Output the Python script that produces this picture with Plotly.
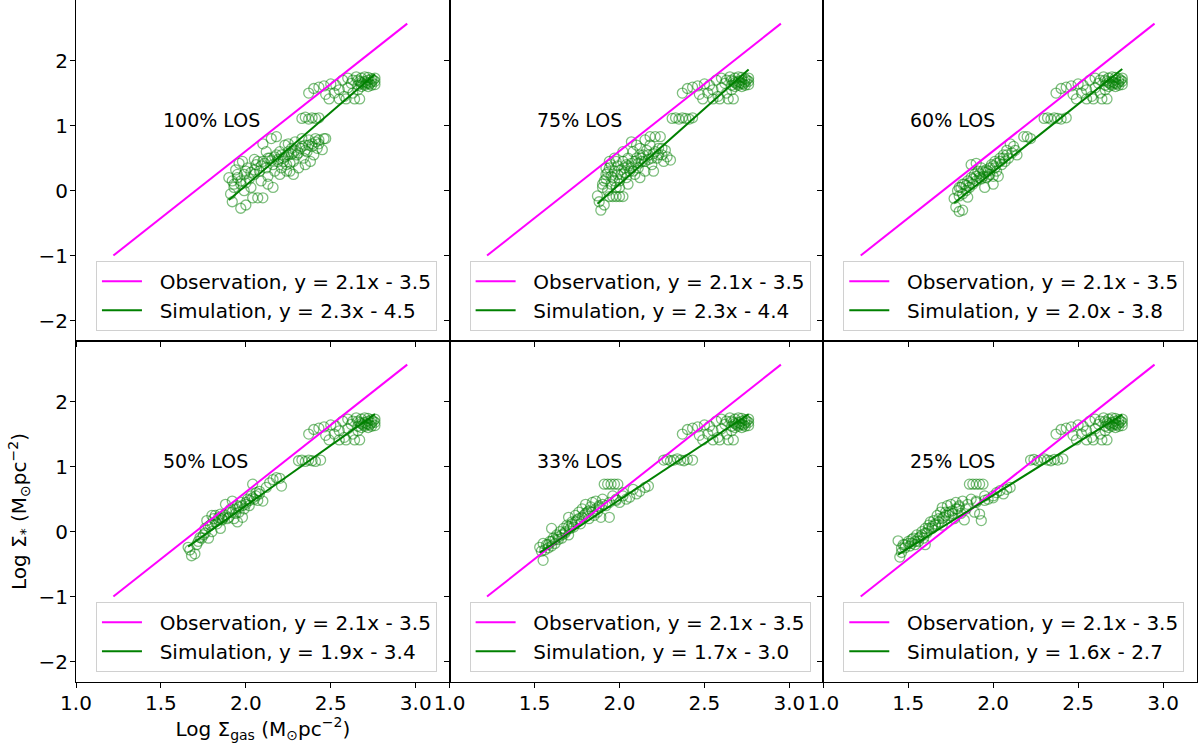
import plotly.graph_objects as go

# ---------------- data ----------------
panel_labels = ["100% LOS", "75% LOS", "60% LOS", "50% LOS", "33% LOS", "25% LOS"]
sim_labels = ["Simulation, y = 2.3x - 4.5", "Simulation, y = 2.3x - 4.4", "Simulation, y = 2.0x - 3.8",
              "Simulation, y = 1.9x - 3.4", "Simulation, y = 1.7x - 3.0", "Simulation, y = 1.6x - 2.7"]
obs_label = "Observation, y = 2.1x - 3.5"

# observation relation (as drawn)
obs_slope, obs_icpt = 2.06, -3.51
obs_x = [1.22, 2.95]

# simulation fit lines (as drawn)
sim_slope = [2.25, 2.32, 2.08, 1.85, 1.73, 1.63]
sim_icpt = [-4.42, -4.54, -3.87, -3.30, -2.97, -2.70]

# upper cluster shared by all panels
upper_x = [2.37, 2.40, 2.43, 2.46, 2.50, 2.52, 2.55, 2.57, 2.60, 2.60, 2.63, 2.49, 2.55, 2.59, 2.64, 2.67,
           2.62, 2.66, 2.53, 2.58, 2.47,
           2.66, 2.66, 2.68, 2.68, 2.68, 2.70, 2.70, 2.70, 2.72, 2.72, 2.72, 2.72, 2.74, 2.74, 2.74,
           2.76, 2.76, 2.76, 2.65, 2.63, 2.69, 2.71, 2.73, 2.75, 2.67]
upper_y = [1.50, 1.57, 1.59, 1.61, 1.64, 1.50, 1.55, 1.70, 1.73, 1.58, 1.50, 1.41, 1.41, 1.41, 1.41, 1.41,
           1.65, 1.55, 1.62, 1.45, 1.48,
           1.62, 1.70, 1.60, 1.66, 1.73, 1.62, 1.68, 1.75, 1.60, 1.65, 1.70, 1.74, 1.62, 1.67, 1.72,
           1.63, 1.68, 1.73, 1.75, 1.70, 1.64, 1.66, 1.64, 1.70, 1.68]

# per-panel points
x_100 = [2.33, 2.35, 2.37, 2.39, 2.41, 2.43,
         1.90, 1.92, 1.93, 1.91, 1.92, 1.97, 2.00, 1.95, 1.97, 1.99, 2.00, 2.02, 2.03, 2.04, 2.07, 2.10,
         2.05, 2.06, 2.08, 2.09, 2.10, 2.12, 2.13, 2.14, 2.16, 2.17, 2.18, 2.19, 2.20, 2.21, 2.22, 2.23,
         2.24, 2.25, 2.26, 2.27, 2.28, 2.29, 2.30, 2.31, 2.32, 2.33, 2.34, 2.35, 2.36, 2.37, 2.38, 2.39,
         2.40, 2.41, 2.42, 2.43, 2.45, 2.46, 2.47, 2.15, 2.18, 2.10, 2.12, 1.96, 1.98, 2.00, 1.94, 2.05,
         2.13, 2.20, 2.25, 2.35, 2.28, 2.16,
         1.93, 1.95, 1.97, 1.99, 2.01, 2.03, 2.05, 2.07, 2.09, 2.11, 2.13, 2.15, 2.17, 2.19, 2.21, 2.23,
         2.25, 2.27, 2.29, 2.31, 2.33, 2.35, 2.37, 2.39, 2.41, 2.43, 2.22, 2.24, 2.26, 2.28]
y_100 = [1.11, 1.13, 1.10, 1.12, 1.11, 1.12,
         0.20, 0.15, 0.05, -0.05, -0.17, -0.27, -0.22, 0.25, 0.10, 0.00, 0.30, 0.18, 0.05, -0.11, -0.11, -0.11,
         0.25, 0.40, 0.30, 0.15, 0.45, 0.35, 0.22, 0.50, 0.40, 0.30, 0.55, 0.45, 0.60, 0.35, 0.50, 0.70,
         0.40, 0.55, 0.30, 0.65, 0.45, 0.75, 0.55, 0.35, 0.65, 0.80, 0.50, 0.70, 0.60, 0.78, 0.45, 0.68,
         0.55, 0.80, 0.65, 0.72, 0.63, 0.80, 0.80, 0.80, 0.83, 0.72, 0.60, 0.42, 0.45, 0.12, 0.32, 0.48,
         0.10, 0.25, 0.72, 0.40, 0.25, 0.05,
         0.10, 0.20, 0.15, 0.25, 0.35, 0.28, 0.32, 0.45, 0.38, 0.42, 0.50, 0.46, 0.52, 0.48, 0.55, 0.52,
         0.60, 0.56, 0.62, 0.58, 0.68, 0.62, 0.70, 0.72, 0.75, 0.78, 0.45, 0.30, 0.42, 0.58]

x_75 = [2.31, 2.33, 2.35, 2.37, 2.39, 2.41, 2.43,
        1.87, 1.88, 1.89, 1.91, 1.90, 1.91, 1.92, 1.93, 1.94, 1.96, 1.98, 2.00, 2.02, 1.95, 1.96, 1.97,
        1.98, 1.99, 2.00, 2.01, 2.02, 2.03, 2.04, 2.05, 2.06, 2.07, 2.08, 2.09, 2.10, 2.11, 2.12, 2.13,
        2.14, 2.15, 2.16, 2.17, 2.18, 2.19, 2.20, 2.21, 2.22, 2.23, 2.24, 2.25, 2.26, 2.27, 2.28, 2.30,
        2.07, 2.10, 2.15, 2.18, 2.05, 1.98, 2.12, 1.94, 2.20, 2.02, 1.94, 1.97,
        1.90, 1.92, 1.93, 1.95, 1.97, 1.99, 2.01, 2.03, 2.05, 2.07, 2.09, 2.11, 2.13, 2.15, 2.17, 2.19,
        2.21, 2.23, 2.25, 1.92, 1.95, 2.00, 2.04, 2.08, 2.12]
y_75 = [1.11, 1.12, 1.10, 1.12, 1.11, 1.10, 1.12,
        -0.08, -0.17, -0.30, -0.22, 0.05, 0.15, 0.25, 0.00, -0.09, -0.09, -0.09, -0.09, -0.09, 0.10, 0.20, 0.30,
        0.05, 0.38, 0.15, 0.25, 0.45, 0.35, 0.20, 0.50, 0.30, 0.42, 0.60, 0.25, 0.50, 0.35, 0.65, 0.45,
        0.55, 0.30, 0.62, 0.48, 0.70, 0.40, 0.57, 0.83, 0.50, 0.65, 0.83, 0.55, 0.45, 0.62, 0.52, 0.47,
        0.75, 0.70, 0.78, 0.83, 0.10, 0.45, 0.20, 0.35, 0.30, 0.60, 0.45, 0.50,
        0.10, 0.18, 0.28, 0.22, 0.15, 0.25, 0.32, 0.28, 0.38, 0.35, 0.45, 0.42, 0.50, 0.45, 0.55, 0.50,
        0.60, 0.55, 0.65, 0.35, 0.40, 0.05, 0.40, 0.30, 0.55]

x_60 = [2.30, 2.32, 2.34, 2.36, 2.38, 2.40, 2.43,
        1.77, 1.78, 1.80, 1.82, 1.79, 1.80, 1.81, 1.82, 1.83, 1.84, 1.85, 1.86, 1.87, 1.88, 1.89, 1.90,
        1.91, 1.92, 1.93, 1.94, 1.95, 1.96, 1.97, 1.98, 1.99, 2.00, 2.01, 2.02, 2.03, 2.04, 2.05, 2.06,
        2.07, 2.08, 2.09, 2.10, 2.11, 2.12, 2.13, 2.14, 2.18, 2.20, 2.22, 1.87, 1.90, 1.95, 2.00, 1.85,
        1.80, 1.82, 1.84, 1.86, 1.88, 1.90, 1.92, 1.94, 1.96, 1.98, 2.00, 2.02, 2.04, 2.06, 2.08, 1.93,
        1.97, 2.01]
y_60 = [1.11, 1.12, 1.10, 1.12, 1.11, 1.10, 1.12,
        -0.12, -0.25, -0.32, -0.30, 0.00, -0.08, 0.05, -0.05, 0.10, 0.00, 0.15, 0.05, 0.20, 0.10, 0.25, 0.15,
        0.30, 0.20, 0.35, 0.22, 0.28, 0.20, 0.22, 0.25, 0.40, 0.22, 0.45, 0.30, 0.22, 0.50, 0.40, 0.55,
        0.45, 0.62, 0.50, 0.72, 0.58, 0.68, 0.62, 0.55, 0.83, 0.83, 0.80, 0.40, 0.42, 0.05, 0.10, -0.10,
        0.05, 0.10, 0.08, 0.12, 0.18, 0.22, 0.26, 0.30, 0.32, 0.35, 0.38, 0.42, 0.45, 0.50, 0.55, 0.18,
        0.30, 0.35]

x_50 = [2.31, 2.33, 2.35, 2.37, 2.39, 2.41, 2.44,
        1.66, 1.68, 1.70, 1.67, 1.71, 1.73, 1.75, 1.76, 1.77, 1.78, 1.79, 1.80, 1.81, 1.82, 1.83, 1.84,
        1.85, 1.86, 1.87, 1.88, 1.89, 1.90, 1.91, 1.92, 1.93, 1.94, 1.95, 1.96, 1.97, 1.98, 1.99, 2.00,
        2.01, 2.02, 2.03, 2.04, 2.05, 2.06, 2.07, 2.08, 2.10, 2.12, 2.14, 2.16, 2.18, 2.20, 2.21, 1.80,
        1.85, 1.95,
        1.72, 1.74, 1.76, 1.78, 1.80, 1.82, 1.84, 1.86, 1.88, 1.90, 1.92, 1.94, 1.96, 1.98, 2.00, 2.02,
        2.04, 2.06, 2.08]
y_50 = [1.09, 1.10, 1.08, 1.10, 1.09, 1.08, 1.10,
        -0.24, -0.37, -0.34, -0.28, -0.20, -0.09, -0.05, 0.05, 0.17, -0.10, 0.10, 0.00, 0.20, 0.25, 0.12, 0.22,
        0.27, 0.18, 0.22, 0.42, 0.20, 0.30, 0.35, 0.47, 0.20, 0.28, 0.40, 0.30, 0.45, 0.22, 0.35, 0.45,
        0.50, 0.40, 0.55, 0.73, 0.50, 0.60, 0.48, 0.62, 0.47, 0.68, 0.75, 0.80, 0.83, 0.82, 0.70, 0.25,
        0.05, 0.15,
        -0.15, -0.10, -0.02, 0.08, 0.12, 0.15, 0.18, 0.20, 0.25, 0.22, 0.30, 0.35, 0.38, 0.40, 0.42, 0.48,
        0.52, 0.55, 0.58]

x_33 = [2.26, 2.28, 2.30, 2.32, 2.34, 2.36, 2.38, 2.40, 2.43,
        1.53, 1.55, 1.54, 1.55, 1.57, 1.58, 1.59, 1.60, 1.61, 1.62, 1.63, 1.64, 1.65, 1.66, 1.67, 1.68,
        1.69, 1.70, 1.71, 1.72, 1.73, 1.74, 1.75, 1.76, 1.77, 1.78, 1.79, 1.80, 1.81, 1.82, 1.83, 1.84,
        1.85, 1.86, 1.87, 1.88, 1.89, 1.90, 1.91, 1.93, 1.95, 1.97, 1.99, 1.92, 1.94, 1.96, 1.98, 2.00,
        2.02, 2.04, 2.06, 2.08, 2.10, 2.12, 2.15, 2.17, 1.60, 1.70,
        1.56, 1.58, 1.60, 1.62, 1.64, 1.66, 1.68, 1.70, 1.72, 1.74, 1.76, 1.78, 1.80, 1.82, 1.84, 1.86,
        1.88, 1.90, 1.94, 1.98, 2.02]
y_33 = [1.10, 1.11, 1.09, 1.10, 1.12, 1.10, 1.09, 1.11, 1.10,
        -0.24, -0.44, -0.30, -0.18, -0.20, -0.25, -0.15, -0.22, -0.10, -0.18, -0.05, -0.12, 0.00, -0.10, 0.05, -0.02,
        0.10, 0.22, 0.05, 0.15, 0.07, 0.25, 0.18, 0.30, 0.12, 0.35, 0.25, 0.42, 0.30, 0.20, 0.38, 0.45,
        0.25, 0.47, 0.30, 0.40, 0.22, 0.50, 0.73, 0.73, 0.73, 0.73, 0.73, 0.40, 0.22, 0.55, 0.48, 0.45,
        0.60, 0.50, 0.53, 0.65, 0.58, 0.62, 0.68, 0.70, 0.05, -0.05,
        -0.28, -0.20, -0.15, -0.12, -0.08, -0.05, 0.00, 0.08, 0.12, 0.15, 0.20, 0.22, 0.28, 0.32, 0.30, 0.35,
        0.38, 0.42, 0.45, 0.50, 0.55]

x_25 = [2.22, 2.24, 2.26, 2.28, 2.30, 2.32, 2.34, 2.36, 2.38, 2.41,
        1.44, 1.45, 1.46, 1.47, 1.48, 1.50, 1.51, 1.52, 1.53, 1.54, 1.55, 1.56, 1.57, 1.58, 1.59, 1.60,
        1.61, 1.62, 1.63, 1.64, 1.65, 1.66, 1.67, 1.68, 1.69, 1.70, 1.71, 1.72, 1.73, 1.74, 1.75, 1.76,
        1.77, 1.78, 1.79, 1.80, 1.81, 1.82, 1.83, 1.84, 1.86, 1.88, 1.90, 1.92, 1.94, 1.87, 1.89, 1.90,
        1.92, 1.93, 1.95, 1.97, 2.00, 2.02, 2.04, 2.06, 2.08, 2.10, 1.60, 1.70,
        1.46, 1.48, 1.50, 1.52, 1.54, 1.56, 1.58, 1.60, 1.62, 1.64, 1.66, 1.68, 1.70, 1.72, 1.74, 1.76,
        1.78, 1.80, 1.85, 1.90, 1.95, 2.00]
y_25 = [1.10, 1.11, 1.09, 1.10, 1.12, 1.10, 1.09, 1.11, 1.10, 1.12,
        -0.14, -0.39, -0.32, -0.20, -0.25, -0.15, -0.22, -0.18, -0.10, -0.20, -0.05, -0.15, -0.08, 0.00, -0.10, 0.05,
        -0.02, 0.10, 0.15, 0.05, 0.17, 0.10, 0.25, 0.20, 0.30, 0.37, 0.22, 0.30, 0.40, 0.25, 0.42, 0.32,
        0.20, 0.45, 0.35, 0.40, 0.28, 0.47, 0.18, 0.35, 0.73, 0.73, 0.73, 0.73, 0.73, 0.50, 0.30, 0.47,
        0.27, 0.17, 0.55, 0.50, 0.55, 0.60, 0.63, 0.58, 0.65, 0.68, -0.20, 0.10,
        -0.25, -0.20, -0.18, -0.12, -0.15, -0.10, -0.05, -0.02, 0.05, 0.08, 0.12, 0.15, 0.20, 0.25, 0.30, 0.28,
        0.35, 0.38, 0.42, 0.45, 0.48, 0.52]

panel_x = [x_100, x_75, x_60, x_50, x_33, x_25]
panel_y = [y_100, y_75, y_60, y_50, y_33, y_25]

x_ticks = [1.0, 1.5, 2.0, 2.5, 3.0]
x_ticktext = ["1.0", "1.5", "2.0", "2.5", "3.0"]
y_ticks = [-2, -1, 0, 1, 2]
y_ticktext = ["\u22122", "\u22121", "0", "1", "2"]

# ---------------- figure ----------------
FONT = "DejaVu Sans"
NB = "\u00a0\u00a0"
fig = go.Figure()

col_dom = [[0.0, 1 / 3], [1 / 3, 2 / 3], [2 / 3, 1.0]]
row_dom = [[0.5, 1.0], [0.0, 0.5]]

for i in range(6):
    r, c = divmod(i, 3)
    n = i + 1
    xa = "x" if n == 1 else f"x{n}"
    ya = "y" if n == 1 else f"y{n}"
    lg = "legend" if n == 1 else f"legend{n}"
    xs = upper_x + panel_x[i]
    ys = upper_y + panel_y[i]
    fig.add_trace(go.Scatter(
        x=xs, y=ys, mode="markers", xaxis=xa, yaxis=ya, showlegend=False,
        marker=dict(symbol="circle-open", size=10, color="rgba(0,128,0,0.5)", line=dict(width=1.3)),
        hoverinfo="skip"))
    ox = obs_x
    oy = [obs_slope * v + obs_icpt for v in ox]
    fig.add_trace(go.Scatter(x=ox, y=oy, mode="lines", xaxis=xa, yaxis=ya, legend=lg,
                             name=NB + obs_label, line=dict(color="#ff00ff", width=2)))
    sx = [min(xs), max(xs)]
    sy = [sim_slope[i] * v + sim_icpt[i] for v in sx]
    fig.add_trace(go.Scatter(x=sx, y=sy, mode="lines", xaxis=xa, yaxis=ya, legend=lg,
                             name=NB + sim_labels[i], line=dict(color="green", width=2)))

    axis_common = dict(showline=True, mirror=True, linecolor="black", linewidth=1,
                       ticks="outside", ticklen=5, tickcolor="black", showgrid=False, zeroline=False,
                       tickfont=dict(family=FONT, size=20, color="black"))
    xkey = "xaxis" if n == 1 else f"xaxis{n}"
    ykey = "yaxis" if n == 1 else f"yaxis{n}"
    fig.layout[xkey] = dict(axis_common, domain=col_dom[c], anchor=ya, range=[0.9999, 3.2],
                            tickvals=x_ticks, ticktext=x_ticktext, showticklabels=(r == 1),
                            ticklabelstandoff=-2)
    fig.layout[ykey] = dict(axis_common, domain=row_dom[r], anchor=xa, range=[-2.31, 2.93],
                            tickvals=y_ticks, ticktext=y_ticktext, showticklabels=(c == 0),
                            ticklabelstandoff=-2)

    x0 = col_dom[c][0]
    fig.layout[lg] = dict(x=x0 + 0.0178, y=row_dom[r][0] + 0.015, xanchor="left", yanchor="bottom",
                          bgcolor="white", bordercolor="#d0d0d0", borderwidth=1,
                          font=dict(family=FONT, size=20, color="black"),
                          tracegroupgap=0, itemwidth=40)

    fig.add_annotation(x=1.5, y=1.08, xref=xa, yref=ya, text=panel_labels[i], showarrow=False,
                       xanchor="left", yanchor="middle", font=dict(family=FONT, size=19, color="black"))

fig.layout.xaxis4.title = dict(text="Log \u03a3<sub>gas</sub> (M<sub>\u2299</sub>pc<sup>\u22122</sup>)",
                               font=dict(family=FONT, size=20, color="black"), standoff=4)
fig.layout.yaxis4.title = dict(text="Log \u03a3<sub>*</sub> (M<sub>\u2299</sub>pc<sup>\u22122</sup>)",
                               font=dict(family=FONT, size=20, color="black"), standoff=6)

fig.update_layout(width=1204, height=743, margin=dict(l=76, r=7, t=0, b=61),
                  paper_bgcolor="white", plot_bgcolor="white",
                  font=dict(family=FONT, color="black"))

fig.write_html("out.html")
